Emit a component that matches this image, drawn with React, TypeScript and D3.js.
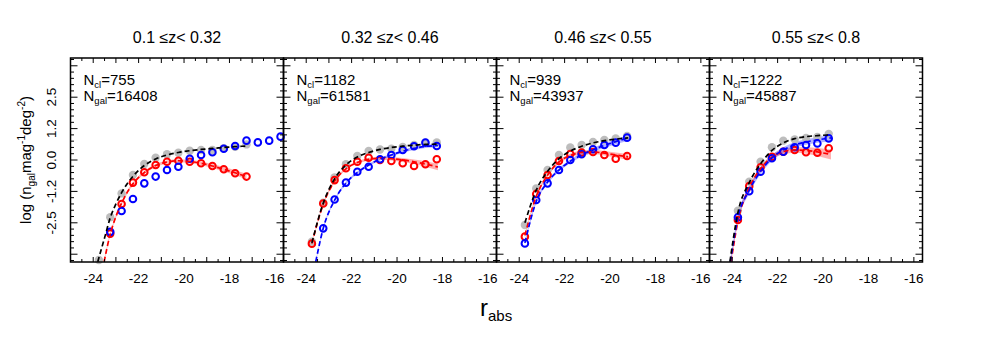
import * as d3 from 'd3';

// panel headers and counts
const panelTitles = ['0.1 ≤z< 0.32', '0.32 ≤z< 0.46', '0.46 ≤z< 0.55', '0.55 ≤z< 0.8'];
const nCl = [755, 1182, 939, 1222];
const nGal = [16408, 61581, 43937, 45887];

// all galaxies (grey filled points)
const allMag = [
  [-23.75, -23.25, -22.75, -22.25, -21.75, -21.25, -20.75, -20.25, -19.75, -19.25, -18.75, -18.25, -17.75, -17.25],
  [-23.75, -23.25, -22.75, -22.25, -21.75, -21.25, -20.75, -20.25, -19.75, -19.25, -18.75, -18.25],
  [-23.75, -23.25, -22.75, -22.25, -21.75, -21.25, -20.75, -20.25, -19.75, -19.25],
  [-23.75, -23.25, -22.75, -22.25, -21.75, -21.25, -20.75, -20.25, -19.75],
];
const allVal = [
  [-3.98, -2.28, -1.33, -0.6, -0.16, 0.09, 0.23, 0.29, 0.37, 0.4, 0.4, 0.47, 0.53, 0.62],
  [-3.25, -1.7, -0.69, -0.17, 0.16, 0.36, 0.42, 0.45, 0.52, 0.6, 0.69, 0.7],
  [-2.59, -1.13, -0.4, 0.2, 0.5, 0.6, 0.72, 0.8, 0.86, 0.96],
  [-2.02, -0.86, -0.07, 0.51, 0.77, 0.82, 0.88, 0.92, 1.04],
];

// red galaxies
const redMag = [
  [-23.25, -22.75, -22.25, -21.75, -21.25, -20.75, -20.25, -19.75, -19.25, -18.75, -18.25, -17.75, -17.25],
  [-23.75, -23.25, -22.75, -22.25, -21.75, -21.25, -20.75, -20.25, -19.75, -19.25, -18.75, -18.25],
  [-23.75, -23.25, -22.75, -22.25, -21.75, -21.25, -20.75, -20.25, -19.75, -19.25],
  [-23.75, -23.25, -22.75, -22.25, -21.75, -21.25, -20.75, -20.25, -19.75],
];
const redVal = [
  [-2.93, -1.75, -0.9, -0.49, -0.2, -0.07, -0.03, -0.07, -0.13, -0.24, -0.37, -0.53, -0.66],
  [-3.33, -1.73, -0.8, -0.33, -0.07, 0.09, 0.0, -0.04, -0.13, -0.24, -0.17, 0.03],
  [-3.05, -1.35, -0.6, -0.04, 0.24, 0.3, 0.32, 0.2, 0.05, 0.16],
  [-2.39, -1.04, -0.29, 0.13, 0.33, 0.4, 0.31, 0.29, 0.47],
];

// blue galaxies
const blueMag = [
  [-23.25, -22.75, -22.25, -21.75, -21.25, -20.75, -20.25, -19.75, -19.25, -18.75, -18.25, -17.75, -17.25, -16.75, -16.25, -15.75],
  [-23.25, -22.75, -22.25, -21.75, -21.25, -20.75, -20.25, -19.75, -19.25, -18.75, -18.25],
  [-23.75, -23.25, -22.75, -22.25, -21.75, -21.25, -20.75, -20.25, -19.75, -19.25],
  [-23.75, -23.25, -22.75, -22.25, -21.75, -21.25, -20.75, -20.25, -19.75],
];
const blueVal = [
  [-2.86, -2.03, -1.55, -0.93, -0.66, -0.4, -0.27, 0.05, 0.2, 0.31, 0.45, 0.56, 0.77, 0.7, 0.77, 0.93],
  [-2.72, -1.57, -0.9, -0.47, -0.27, 0.03, 0.2, 0.4, 0.55, 0.69, 0.56],
  [-3.32, -1.59, -0.93, -0.4, 0.0, 0.23, 0.43, 0.6, 0.69, 0.89],
  [-2.28, -1.24, -0.47, 0.07, 0.33, 0.51, 0.6, 0.66, 0.86],
];

// fitted curves
const allFitMag = [
  [-23.8, -23.5, -23.25, -23, -22.75, -22.25, -21.75, -21.25, -20.75, -20.25, -19.75, -19.25, -18.75, -18.25, -17.75, -17.2],
  [-23.75, -23.25, -22.75, -22.25, -21.75, -21.25, -20.75, -20.25, -19.75, -19.25, -18.75, -18.2],
  [-23.75, -23.25, -22.75, -22.25, -21.75, -21.25, -20.75, -20.25, -19.75, -19.2],
  [-24.1, -23.75, -23.25, -22.75, -22.25, -21.75, -21.25, -20.75, -20.25, -19.65],
];
const allFitVal = [
  [-4.05, -3.1, -2.3, -1.75, -1.3, -0.65, -0.22, 0.04, 0.2, 0.3, 0.37, 0.42, 0.46, 0.5, 0.53, 0.56],
  [-3.3, -1.72, -0.75, -0.2, 0.12, 0.3, 0.42, 0.5, 0.55, 0.59, 0.62, 0.63],
  [-2.5, -1.2, -0.45, 0.05, 0.35, 0.55, 0.68, 0.77, 0.83, 0.88],
  [-4.05, -2.1, -0.9, -0.15, 0.38, 0.68, 0.85, 0.93, 0.97, 1.0],
];

const redFitMag = [
  [-23.52, -23.25, -23, -22.75, -22.5, -22.25, -21.75, -21.25, -20.75, -20.25, -19.75, -19.25, -18.75, -18.25, -17.75, -17.25],
  [-23.75, -23.25, -22.75, -22.25, -21.75, -21.25, -20.75, -20.25, -19.75, -19.25, -18.75, -18.2],
  [-23.75, -23.25, -22.75, -22.25, -21.75, -21.25, -20.75, -20.25, -19.75, -19.2],
  [-24.05, -23.75, -23.25, -22.75, -22.25, -21.75, -21.25, -20.75, -20.25, -19.65],
];
const redFitVal = [
  [-4.05, -2.95, -2.25, -1.72, -1.28, -0.95, -0.5, -0.22, -0.08, -0.03, -0.06, -0.13, -0.24, -0.37, -0.51, -0.66],
  [-3.33, -1.76, -0.85, -0.35, -0.1, 0.03, 0.07, 0.05, 0.0, -0.07, -0.16, -0.28],
  [-3.0, -1.45, -0.6, -0.08, 0.18, 0.3, 0.32, 0.27, 0.2, 0.12],
  [-4.05, -2.45, -1.1, -0.35, 0.12, 0.33, 0.4, 0.38, 0.32, 0.22],
];
const redFitErr = [
  [0.06, 0.06, 0.06, 0.06, 0.06, 0.06, 0.06, 0.06, 0.06, 0.06, 0.07, 0.07, 0.08, 0.09, 0.1, 0.11],
  [0.05, 0.05, 0.05, 0.05, 0.05, 0.06, 0.06, 0.07, 0.08, 0.09, 0.11, 0.13],
  [0.07, 0.07, 0.07, 0.07, 0.07, 0.08, 0.08, 0.09, 0.1, 0.11],
  [0.09, 0.09, 0.09, 0.09, 0.09, 0.1, 0.11, 0.13, 0.16, 0.2],
];

const blueFitMag = [
  [],
  [-23.58, -23.25, -22.75, -22.25, -21.75, -21.25, -20.75, -20.25, -19.75, -19.25, -18.75, -18.2],
  [-23.75, -23.25, -22.75, -22.25, -21.75, -21.25, -20.75, -20.25, -19.75, -19.2],
  [-24.08, -23.75, -23.25, -22.75, -22.25, -21.75, -21.25, -20.75, -20.25, -19.65],
];
const blueFitVal = [
  [],
  [-4.05, -2.72, -1.6, -0.92, -0.5, -0.2, 0.03, 0.2, 0.35, 0.46, 0.54, 0.58],
  [-3.3, -1.65, -0.88, -0.4, -0.05, 0.2, 0.4, 0.58, 0.73, 0.88],
  [-4.05, -2.3, -1.2, -0.45, 0.08, 0.4, 0.6, 0.72, 0.8, 0.88],
];
const blueFitErr = [
  [],
  [0.05, 0.05, 0.05, 0.05, 0.05, 0.05, 0.05, 0.05, 0.06, 0.06, 0.06, 0.07],
  [0.07, 0.07, 0.07, 0.07, 0.07, 0.08, 0.08, 0.09, 0.1, 0.11],
  [0.13, 0.13, 0.13, 0.11, 0.11, 0.11, 0.11, 0.11, 0.11, 0.13],
];

const xTickLabels = [-24, -22, -20, -18, -16];
const yTickValues = [2.5, 1.25, 0, -1.25, -2.5];
const yTickLabels = ['2.5', '1.2', '0.0', '-1.2', '-2.5'];

const W = 981;
const H = 357;
const LEFT = 70.5;
const TOP = 58;
const PW = 213;
const PH = 204;
const FONT = '"Liberation Sans", Arial, Helvetica, sans-serif';
const RED = '#ff0000';
const BLUE = '#0000ff';
const GREY = '#bdbdbd';

const x = d3.scaleLinear().domain([-25, -15.62]).range([0, PW]);
const y = d3.scaleLinear().domain([-4.06, 4.06]).range([PH, 0]);

const line = d3.line<[number, number]>()
  .x(d => x(d[0]))
  .y(d => y(d[1]))
  .curve(d3.curveMonotoneX);

const band = d3.area<[number, number, number]>()
  .x(d => x(d[0]))
  .y0(d => y(d[1] - d[2]))
  .y1(d => y(d[1] + d[2]))
  .curve(d3.curveMonotoneX);

const xMinor = d3.range(-25, -15.6, 0.5);
const xMajor = d3.range(-25, -15.6, 1);
const yMinor = d3.range(-4, 4.01, 0.25);
const yMajor = d3.range(-3.75, 3.76, 1.25);

function zip2(a: number[], b: number[]): [number, number][] {
  return a.map((m, i) => [m, b[i]]);
}
function zip3(a: number[], b: number[], c: number[]): [number, number, number][] {
  return a.map((m, i) => [m, b[i], c[i]]);
}

function Panel({ i }: { i: number }) {
  const tx = LEFT + i * PW;
  const clip = `clip-${i}`;
  const ticks: JSX.Element[] = [];
  xMinor.forEach((v, k) => {
    const len = xMajor.some(m => Math.abs(m - v) < 1e-6) ? 5 : 3;
    ticks.push(<line key={`xb${k}`} x1={x(v)} x2={x(v)} y1={PH} y2={PH - len} />);
    ticks.push(<line key={`xt${k}`} x1={x(v)} x2={x(v)} y1={0} y2={len} />);
  });
  yMinor.forEach((v, k) => {
    const len = yMajor.some(m => Math.abs(m - v) < 1e-6) ? 7 : 3.5;
    ticks.push(<line key={`yl${k}`} x1={0} x2={len} y1={y(v)} y2={y(v)} />);
    ticks.push(<line key={`yr${k}`} x1={PW} x2={PW - len} y1={y(v)} y2={y(v)} />);
  });

  return (
    <g transform={`translate(${tx},${TOP})`}>
      <defs>
        <clipPath id={clip}>
          <rect x={0} y={0} width={PW} height={PH} />
        </clipPath>
      </defs>
      <g clipPath={`url(#${clip})`}>
        <path d={band(zip3(redFitMag[i], redFitVal[i], redFitErr[i])) || ''} fill={RED} fillOpacity={0.3} />
        {blueFitMag[i].length > 0 && (
          <path d={band(zip3(blueFitMag[i], blueFitVal[i], blueFitErr[i])) || ''} fill={BLUE} fillOpacity={0.3} />
        )}
      </g>
      {allMag[i].map((m, k) => (
        <circle key={`g${k}`} cx={x(m)} cy={y(allVal[i][k])} r={4.2} fill={GREY} />
      ))}
      {redMag[i].map((m, k) => (
        <circle key={`r${k}`} cx={x(m)} cy={y(redVal[i][k])} r={3.3} fill="none" stroke={RED} strokeWidth={2} />
      ))}
      {blueMag[i].map((m, k) => (
        <circle key={`b${k}`} cx={x(m)} cy={y(blueVal[i][k])} r={3.3} fill="none" stroke={BLUE} strokeWidth={2} />
      ))}
      <g clipPath={`url(#${clip})`} fill="none" strokeWidth={1.7} strokeDasharray="5,3">
        <path d={line(zip2(redFitMag[i], redFitVal[i])) || ''} stroke={RED} />
        {blueFitMag[i].length > 0 && <path d={line(zip2(blueFitMag[i], blueFitVal[i])) || ''} stroke={BLUE} />}
        <path d={line(zip2(allFitMag[i], allFitVal[i])) || ''} stroke="#000" />
      </g>
      <g stroke="#000" strokeWidth={1}>{ticks}</g>
      <rect x={0} y={0} width={PW} height={PH} fill="none" stroke="#000" strokeWidth={1.5} />
      {xTickLabels.map(v => (
        <text key={v} x={x(v)} y={PH + 21} textAnchor="middle" fontSize={13.5} fontFamily={FONT}>{v}</text>
      ))}
      <text x={13} y={27} fontSize={15} fontFamily={FONT}>
        N<tspan fontSize={9.5} dy={2.5}>cl</tspan><tspan dy={-2.5}>={nCl[i]}</tspan>
      </text>
      <text x={13} y={43} fontSize={15} fontFamily={FONT}>
        N<tspan fontSize={9.5} dy={2.5}>gal</tspan><tspan dy={-2.5}>={nGal[i]}</tspan>
      </text>
      <text x={PW / 2} y={-15} textAnchor="middle" fontSize={16} fontFamily={FONT}>{panelTitles[i]}</text>
    </g>
  );
}

export default function App() {
  return (
    <svg width={W} height={H} style={{ position: 'absolute', left: 0, top: 0, background: '#fff' }}>
      <rect width={W} height={H} fill="#fff" />
      {[0, 1, 2, 3].map(i => <Panel key={i} i={i} />)}
      {yTickValues.map((v, k) => (
        <text key={v} transform={`translate(${LEFT - 15},${TOP + y(v)}) rotate(-90)`} textAnchor="middle"
          fontSize={13.5} fontFamily={FONT}>{yTickLabels[k]}</text>
      ))}
      <text transform={`translate(31,${TOP + PH / 2}) rotate(-90)`} textAnchor="middle" fontSize={15} fontFamily={FONT}>
        log (n<tspan fontSize={10} dy={4}>gal</tspan><tspan dy={-4}>mag</tspan>
        <tspan fontSize={10} dy={-6}>-1</tspan><tspan dy={6}>deg</tspan>
        <tspan fontSize={10} dy={-6}>-2</tspan><tspan dy={6}>)</tspan>
      </text>
      <text x={480} y={316} fontSize={24} fontFamily={FONT}>
        r<tspan fontSize={15} dy={5}>abs</tspan>
      </text>
    </svg>
  );
}
